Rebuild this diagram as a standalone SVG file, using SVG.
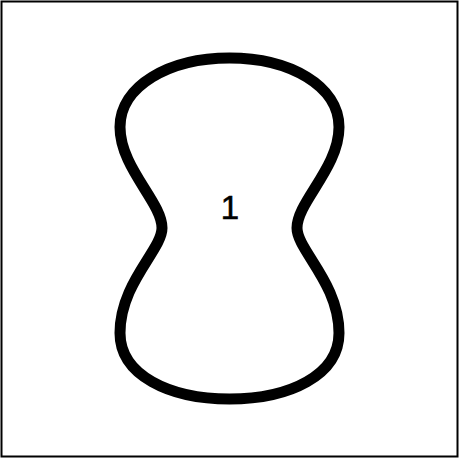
<svg xmlns="http://www.w3.org/2000/svg" width="462" height="461" viewBox="0 0 462 461">
<style>
.frame{fill:#fff;stroke:#000;stroke-width:2}
.shape{fill:none;stroke:#000;stroke-width:11;stroke-linejoin:round}
.lbl{font-family:"Liberation Sans","DejaVu Sans",sans-serif;font-size:33px;fill:#000;stroke:#000;stroke-width:0.6;text-anchor:middle}
</style>
<rect x="0" y="0" width="462" height="461" fill="#fff"/>
<rect class="frame" x="1.5" y="1.5" width="456" height="455"/>
<g id="node1">
<path class="shape" d="M 229.5 58 C 290 58, 339 86, 339 127 C 339 168, 297 202, 297 228 C 297 250, 339 283, 339 333 C 339 375, 290 399, 229.5 399 C 169 399, 120 375, 120 333 C 120 283, 162 250, 162 228 C 162 202, 120 168, 120 127 C 120 86, 169 58, 229.5 58 Z"/>
<text class="lbl" x="230" y="219">1</text>
</g>
</svg>
